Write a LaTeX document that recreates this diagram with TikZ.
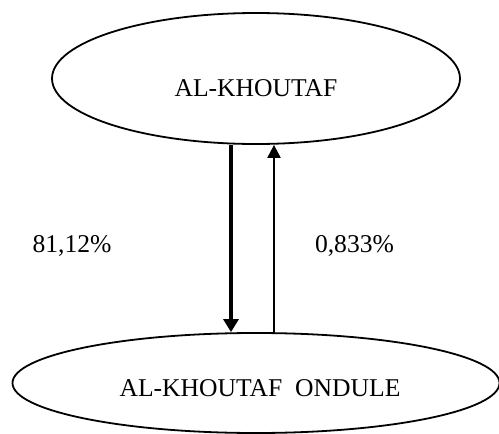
\documentclass[tikz,border=0pt]{standalone}
\usepackage{fontspec}
\setmainfont{Liberation Serif}
\usetikzlibrary{shapes.geometric,arrows.meta}
\begin{document}
\begin{tikzpicture}[x=1pt,y=-1pt,
  oval/.style={draw=black,line width=1.8pt,ellipse,inner sep=0pt},
  txt/.style={inner sep=0pt,anchor=base,font=\fontsize{25.6}{30}\selectfont},
  heavy/.style={line width=4.5pt,-{Triangle[length=13pt,width=15pt]}},
  light/.style={line width=2.2pt,-{Triangle[length=13pt,width=13pt]}}]
\useasboundingbox (0,0) rectangle (499,434);
\clip (0,0) rectangle (499,434);
\node[oval,minimum width=408pt,minimum height=131pt] (e1) at (256,78.5) {};
\node[oval,minimum width=487pt,minimum height=100pt] (e2) at (256,383) {};
\node[txt] (t1) at (256,96) {AL-KHOUTAF};
\node[txt] (t2) at (260,396) {AL-KHOUTAF\ \ ONDULE};
\node[txt] (p1) at (72,252) {81,12\%};
\node[txt] (p2) at (354.5,252) {0,833\%};
\draw[heavy] ([xshift=-25pt]e1.south) -- ([xshift=-25pt]e2.north);
\draw[light] ([xshift=18pt]e2.north) -- ([xshift=18pt]e1.south);
\end{tikzpicture}
\end{document}
